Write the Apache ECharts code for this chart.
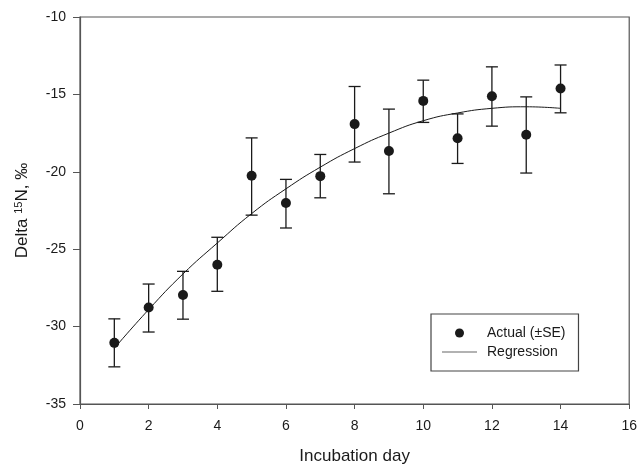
<!DOCTYPE html>
<html>
<head>
<meta charset="utf-8">
<script src="https://cdn.jsdelivr.net/npm/echarts@6/dist/echarts.min.js"></script>
<style>
body { margin: 0; background: #fff; }
#main { width: 640px; height: 470px; }
</style>
</head>
<body>
<div id="main"></div>
<script>
// incubation days
var days = [1, 2, 3, 4, 5, 6, 7, 8, 9, 10, 11, 12, 13, 14];
// measured delta 15N (mean)
var actual = [-31.05, -28.77, -27.96, -26.0, -20.26, -22.02, -20.28, -16.92, -18.66, -15.42, -17.83, -15.12, -17.61, -14.62];
// error bar ends (mean + SE / mean - SE)
var seHigh = [-29.5, -27.25, -26.43, -24.23, -17.81, -20.49, -18.88, -14.49, -15.95, -14.08, -16.26, -13.22, -15.16, -13.10];
var seLow = [-32.6, -30.35, -29.52, -27.72, -22.8, -23.63, -21.68, -19.37, -21.42, -16.81, -19.46, -17.05, -20.08, -16.19];
// regression curve read at each day
var regression = [-31.4, -28.9, -26.6, -24.6, -22.7, -21.1, -19.7, -18.5, -17.5, -16.7, -16.2, -15.9, -15.8, -15.9];

var ink = '#1a1a1a';
var axisCol = '#555';

var scatterData = [];
var barData = [];
var lineData = [];
for (var i = 0; i < days.length; i++) {
	scatterData.push([days[i], actual[i]]);
	barData.push([days[i], seLow[i], seHigh[i]]);
	lineData.push([days[i], regression[i]]);
}

function renderErrBar(params, api) {
	var x = api.value(0);
	var lo = api.coord([x, api.value(1)]);
	var hi = api.coord([x, api.value(2)]);
	var half = 6;
	var st = { stroke: ink, lineWidth: 1.3 };
	return {
		type: 'group',
		children: [
			{ type: 'line', shape: { x1: lo[0], y1: lo[1], x2: hi[0], y2: hi[1] }, style: st },
			{ type: 'line', shape: { x1: hi[0] - half, y1: hi[1], x2: hi[0] + half, y2: hi[1] }, style: st },
			{ type: 'line', shape: { x1: lo[0] - half, y1: lo[1], x2: lo[0] + half, y2: lo[1] }, style: st }
		]
	};
}

var chart = echarts.init(document.getElementById('main'));

var option = {
	animation: false,
	backgroundColor: '#fff',
	textStyle: { fontFamily: 'Liberation Sans, Arial, sans-serif' },
	grid: {
		left: 80,
		right: 7,
		top: 17,
		bottom: 66,
		show: true,
		borderColor: axisCol,
		borderWidth: 1.2
	},
	legend: {
		orient: 'vertical',
		left: 431,
		top: 314,
		padding: [12, 13, 12, 11],
		itemWidth: 35,
		itemHeight: 9,
		itemGap: 5,
		borderColor: '#444',
		borderWidth: 1.2,
		textStyle: { fontSize: 14, color: ink, lineHeight: 14, padding: [0, 0, 0, 5] },
		data: [
			{ name: 'Actual (±SE)', icon: 'circle' },
			{ name: 'Regression', icon: 'path://M0,0 L35,0 L35,1 L0,1 Z', itemStyle: { color: '#666' } }
		]
	},
	xAxis: {
		type: 'value',
		min: 0,
		max: 16,
		interval: 2,
		name: 'Incubation day',
		nameLocation: 'middle',
		nameGap: 44,
		nameTextStyle: { fontSize: 17, color: ink },
		axisLine: { lineStyle: { color: axisCol, width: 1.2 } },
		axisTick: { show: true, inside: false, length: 5, lineStyle: { color: axisCol } },
		axisLabel: { fontSize: 14, color: ink, margin: 15 },
		splitLine: { show: false }
	},
	yAxis: {
		type: 'value',
		min: -35,
		max: -10,
		interval: 5,
		name: 'Delta {sup|15}N, ‰',
		nameLocation: 'middle',
		nameGap: 48,
		nameTextStyle: {
			fontSize: 17,
			color: ink,
			rich: { sup: { fontSize: 11, color: ink, verticalAlign: 'bottom', padding: [0, 0, 8, 0] } }
		},
		axisLine: { show: true, lineStyle: { color: axisCol, width: 1.2 } },
		axisTick: { show: true, inside: false, length: 7, lineStyle: { color: axisCol } },
		axisLabel: { fontSize: 14, color: ink, margin: 14 },
		splitLine: { show: false }
	},
	series: [
		{
			name: 'Regression',
			type: 'line',
			data: lineData,
			smooth: true,
			symbol: 'none',
			lineStyle: { color: ink, width: 1 },
			itemStyle: { color: ink },
			z: 2
		},
		{
			name: 'errbars',
			type: 'custom',
			data: barData,
			renderItem: renderErrBar,
			encode: { x: 0, y: [1, 2] },
			z: 3
		},
		{
			name: 'Actual (±SE)',
			type: 'scatter',
			data: scatterData,
			symbol: 'circle',
			symbolSize: 10,
			itemStyle: { color: ink, opacity: 1 },
			z: 4
		}
	]
};

chart.setOption(option);
</script>
</body>
</html>
